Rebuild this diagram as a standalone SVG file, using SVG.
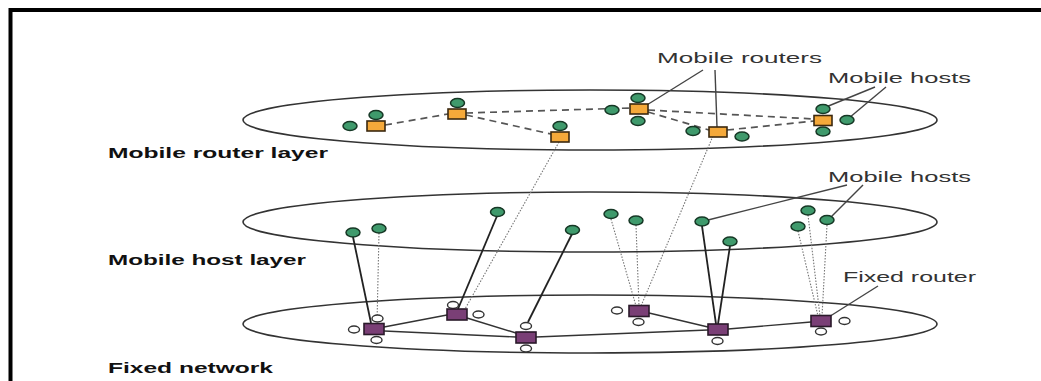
<svg xmlns="http://www.w3.org/2000/svg" width="1041" height="381" viewBox="0 0 1041 381">
<style>
.bg{fill:#ffffff}
.frame{fill:none;stroke:#000;stroke-width:4}
.layer{fill:none;stroke:#333;stroke-width:1.6}
.dash{fill:none;stroke:#555;stroke-width:1.7;stroke-dasharray:7 5}
.dot{fill:none;stroke:#777;stroke-width:1.1;stroke-dasharray:1.5 1.5}
.solid{fill:none;stroke:#222;stroke-width:1.8}
.link{fill:none;stroke:#333;stroke-width:1.4}
.lead{fill:none;stroke:#444;stroke-width:1.4}
.host{fill:#3f9a6c;stroke:#173826;stroke-width:1.5}
.mr{fill:#f5a93a;stroke:#3b2810;stroke-width:1.6}
.fr{fill:#7a3f76;stroke:#2a1a2a;stroke-width:1.6}
.wd{fill:#fff;stroke:#333;stroke-width:1.4}
.bold{font-family:"Liberation Sans",Arial,sans-serif;font-weight:bold;font-size:14px;fill:#111}
.lbl{font-family:"Liberation Sans",Arial,sans-serif;font-size:15px;fill:#333}
</style>
<rect class="bg" x="0" y="0" width="1041" height="381"/>
<path class="frame" d="M10.5 381 V10 H1041"/>

<g id="layers">
<ellipse class="layer" cx="590" cy="120" rx="347" ry="30"/>
<ellipse class="layer" cx="590" cy="222" rx="347" ry="30"/>
<ellipse class="layer" cx="590" cy="324" rx="347" ry="29"/>
</g>

<g id="connectors">
<!-- mobile router mesh -->
<path class="dash" d="M385 125 L448 114"/>
<path class="dash" d="M466 115 L551 134"/>
<path class="dash" d="M466 113 L630 108"/>
<path class="dash" d="M648 112 L709 130"/>
<path class="dash" d="M648 110 L814 119"/>
<path class="dash" d="M727 130 L814 121"/>
<!-- dotted inter-layer -->
<path class="dot" d="M559 142 L465 309"/>
<path class="dot" d="M713 136 L641 306"/>
<path class="dot" d="M379 233 L377 323"/>
<path class="dot" d="M611 219 L636 306"/>
<path class="dot" d="M636 225 L639 306"/>
<path class="dot" d="M808 215 L820 316"/>
<path class="dot" d="M798 231 L818 316"/>
<path class="dot" d="M827 225 L822 316"/>
<!-- solid host-to-fixed -->
<path class="solid" d="M353 237 L371 323"/>
<path class="solid" d="M497 216 L458 309"/>
<path class="solid" d="M572 234 L528 322"/>
<path class="solid" d="M702 226 L716 324"/>
<path class="solid" d="M730 246 L718 324"/>
<!-- fixed network -->
<path class="link" d="M384 327 L447 315"/>
<path class="link" d="M384 331 L516 337"/>
<path class="link" d="M467 318 L516 333"/>
<path class="link" d="M536 337 L708 330"/>
<path class="link" d="M649 313 L708 327"/>
<path class="link" d="M728 329 L811 322"/>
<!-- leaders -->
<path class="lead" d="M703 70 L642 108"/>
<path class="lead" d="M715 70 L717 127"/>
<path class="lead" d="M875 87 L826 107"/>
<path class="lead" d="M886 87 L849 118"/>
<path class="lead" d="M847 185 L708 220"/>
<path class="lead" d="M863 185 L830 218"/>
<path class="lead" d="M878 286 L824 320"/>
</g>

<g id="mobile-router-1">
<ellipse class="host" cx="350" cy="126" rx="7" ry="4.5"/>
<ellipse class="host" cx="376" cy="115" rx="7" ry="4.5"/>
<rect class="mr" x="367" y="121" width="18" height="10"/>
</g>
<g id="mobile-router-2">
<ellipse class="host" cx="457.5" cy="103" rx="7" ry="4.5"/>
<rect class="mr" x="448" y="109" width="18" height="10"/>
</g>
<g id="mobile-router-3">
<ellipse class="host" cx="560" cy="126" rx="7" ry="4.5"/>
<rect class="mr" x="551" y="132" width="18" height="10"/>
</g>
<g id="mobile-router-4">
<ellipse class="host" cx="612" cy="110" rx="7" ry="4.5"/>
<ellipse class="host" cx="638" cy="98" rx="7" ry="4.5"/>
<ellipse class="host" cx="638" cy="121" rx="7" ry="4.5"/>
<rect class="mr" x="630" y="104" width="18" height="10"/>
</g>
<g id="mobile-router-5">
<ellipse class="host" cx="693" cy="131" rx="7" ry="4.5"/>
<ellipse class="host" cx="742" cy="136.5" rx="7" ry="4.5"/>
<rect class="mr" x="709" y="127" width="18" height="10"/>
</g>
<g id="mobile-router-6">
<ellipse class="host" cx="823" cy="109" rx="7" ry="4.5"/>
<ellipse class="host" cx="823" cy="131.5" rx="7" ry="4.5"/>
<ellipse class="host" cx="847" cy="120" rx="7" ry="4.5"/>
<rect class="mr" x="814" y="115.5" width="18" height="10"/>
</g>

<g id="mobile-hosts">
<ellipse class="host" cx="353" cy="232.5" rx="7" ry="4.5"/>
<ellipse class="host" cx="379" cy="228.5" rx="7" ry="4.5"/>
<ellipse class="host" cx="497.5" cy="212" rx="7" ry="4.5"/>
<ellipse class="host" cx="572.5" cy="230" rx="7" ry="4.5"/>
<ellipse class="host" cx="611" cy="214" rx="7" ry="4.5"/>
<ellipse class="host" cx="636" cy="220.5" rx="7" ry="4.5"/>
<ellipse class="host" cx="702" cy="221.5" rx="7" ry="4.5"/>
<ellipse class="host" cx="730" cy="241.5" rx="7" ry="4.5"/>
<ellipse class="host" cx="808" cy="210.5" rx="7" ry="4.5"/>
<ellipse class="host" cx="798" cy="226.5" rx="7" ry="4.5"/>
<ellipse class="host" cx="827" cy="220" rx="7" ry="4.5"/>
</g>

<g id="fixed-router-1">
<ellipse class="wd" cx="354" cy="329.5" rx="5.5" ry="3.5"/>
<ellipse class="wd" cx="377.5" cy="318.5" rx="5.5" ry="3.5"/>
<ellipse class="wd" cx="376.5" cy="340" rx="5.5" ry="3.5"/>
<rect class="fr" x="364" y="323.5" width="20" height="11"/>
</g>
<g id="fixed-router-2">
<ellipse class="wd" cx="453" cy="305" rx="5.5" ry="3.5"/>
<ellipse class="wd" cx="478.5" cy="314.5" rx="5.5" ry="3.5"/>
<rect class="fr" x="447" y="309" width="20" height="11"/>
</g>
<g id="fixed-router-3">
<ellipse class="wd" cx="526" cy="326" rx="5.5" ry="3.5"/>
<ellipse class="wd" cx="526" cy="348.5" rx="5.5" ry="3.5"/>
<rect class="fr" x="516" y="332" width="20" height="11"/>
</g>
<g id="fixed-router-4">
<ellipse class="wd" cx="617" cy="310.5" rx="5.5" ry="3.5"/>
<ellipse class="wd" cx="638.5" cy="322" rx="5.5" ry="3.5"/>
<rect class="fr" x="629" y="305.5" width="20" height="11"/>
</g>
<g id="fixed-router-5">
<ellipse class="wd" cx="717.5" cy="341" rx="5.5" ry="3.5"/>
<rect class="fr" x="708" y="324" width="20" height="11"/>
</g>
<g id="fixed-router-6">
<ellipse class="wd" cx="821" cy="331.5" rx="5.5" ry="3.5"/>
<ellipse class="wd" cx="844.5" cy="321" rx="5.5" ry="3.5"/>
<rect class="fr" x="811" y="315.5" width="20" height="11"/>
</g>

<g id="labels">
<text class="bold" x="108" y="158" textLength="220" lengthAdjust="spacingAndGlyphs">Mobile router layer</text>
<text class="bold" x="108" y="265" textLength="198" lengthAdjust="spacingAndGlyphs">Mobile host layer</text>
<text class="bold" x="108" y="373" textLength="165" lengthAdjust="spacingAndGlyphs">Fixed network</text>
<text class="lbl" x="657" y="63" textLength="165" lengthAdjust="spacingAndGlyphs">Mobile routers</text>
<text class="lbl" x="828" y="83" textLength="143" lengthAdjust="spacingAndGlyphs">Mobile hosts</text>
<text class="lbl" x="828" y="182" textLength="143" lengthAdjust="spacingAndGlyphs">Mobile hosts</text>
<text class="lbl" x="843" y="282" textLength="133" lengthAdjust="spacingAndGlyphs">Fixed router</text>
</g>
</svg>
